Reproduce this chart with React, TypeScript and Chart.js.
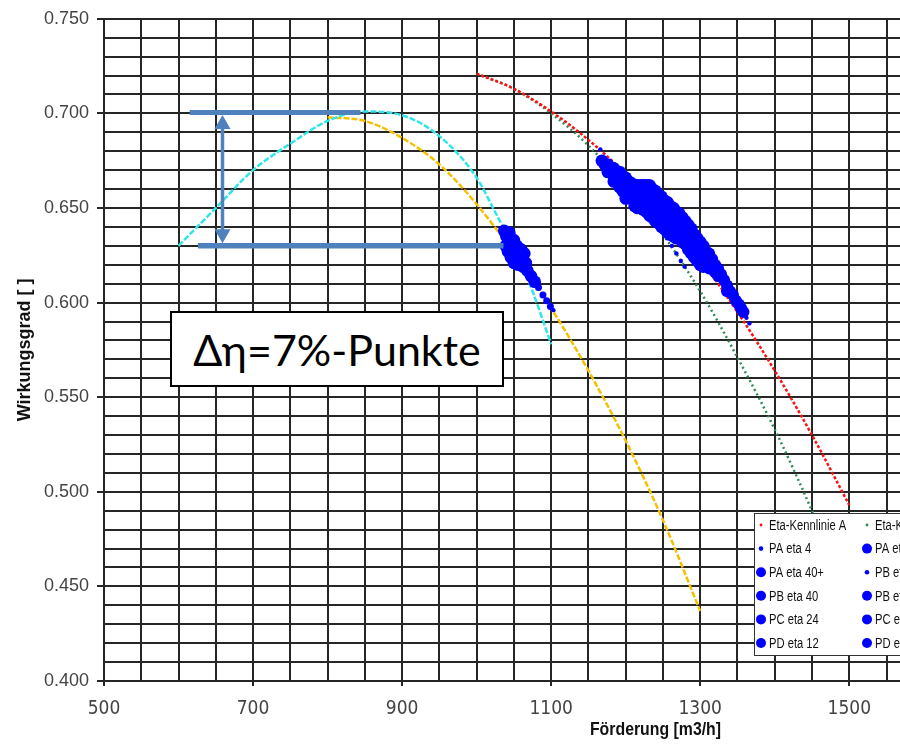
import React, { useEffect, useRef } from 'react';
import { Chart, registerables } from 'chart.js';
Chart.register(...registerables);

// ---- characteristic curves (Förderung [m3/h], Wirkungsgrad) ----
const redX = [1000, 1050, 1100, 1150, 1200, 1250, 1300, 1350, 1400, 1450, 1500];
const redY = [0.721, 0.713, 0.701, 0.686, 0.668, 0.647, 0.623, 0.595, 0.564, 0.530, 0.493];
const greenX = [1000, 1050, 1100, 1150, 1200, 1250, 1300, 1350, 1400, 1450, 1480];
const greenY = [0.721, 0.713, 0.700, 0.683, 0.661, 0.636, 0.606, 0.571, 0.533, 0.490, 0.462];
const cyanX = [600, 650, 700, 750, 800, 850, 900, 950, 1000, 1030, 1050, 1075, 1100];
const cyanY = [0.630, 0.650, 0.670, 0.684, 0.696, 0.701, 0.699, 0.688, 0.666, 0.644, 0.630, 0.606, 0.578];
const yellowX = [800, 850, 900, 950, 1000, 1050, 1100, 1150, 1200, 1250, 1300];
const yellowY = [0.698, 0.696, 0.687, 0.673, 0.652, 0.626, 0.597, 0.564, 0.527, 0.485, 0.437];

// ---- measured operating points [Förderung, Wirkungsgrad] ----
const paEta4 = [[1256, 0.634], [1262, 0.630], [1268, 0.626], [1274, 0.622], [1279, 0.619], [1362, 0.592], [1366, 0.589]];
const paEta24 = [[1168, 0.675], [1172, 0.673], [1176, 0.673], [1176, 0.669], [1180, 0.671], [1184, 0.671], [1184, 0.667], [1184, 0.664], [1188, 0.669], [1188, 0.665], [1192, 0.669], [1192, 0.665], [1192, 0.661], [1196, 0.667], [1196, 0.663], [1196, 0.659], [1200, 0.666], [1200, 0.662], [1200, 0.658], [1200, 0.655]];
const paEta40p = [[1204, 0.664], [1204, 0.660], [1204, 0.656], [1208, 0.663], [1208, 0.659], [1208, 0.655], [1212, 0.662], [1212, 0.658], [1212, 0.654], [1212, 0.651], [1216, 0.662], [1216, 0.658], [1216, 0.654], [1216, 0.650], [1220, 0.662], [1220, 0.656], [1220, 0.650], [1224, 0.662], [1224, 0.658], [1224, 0.654], [1224, 0.649], [1228, 0.662], [1228, 0.656], [1228, 0.648], [1232, 0.662], [1232, 0.658], [1232, 0.654], [1232, 0.650], [1232, 0.646], [1236, 0.660], [1236, 0.652], [1236, 0.645], [1240, 0.659], [1240, 0.655], [1240, 0.651], [1240, 0.647], [1240, 0.643]];
const pbEta4 = [[1103, 0.596], [1166, 0.681]];
const pbEta40 = [[1244, 0.657], [1244, 0.650], [1244, 0.642], [1248, 0.656], [1248, 0.652], [1248, 0.648], [1248, 0.644], [1248, 0.640], [1252, 0.654], [1252, 0.646], [1252, 0.639], [1256, 0.653], [1256, 0.649], [1256, 0.645], [1256, 0.641], [1256, 0.637], [1260, 0.651], [1260, 0.643], [1260, 0.636], [1264, 0.650], [1264, 0.646], [1264, 0.642], [1264, 0.638], [1264, 0.635], [1268, 0.648], [1268, 0.641], [1268, 0.634], [1272, 0.647], [1272, 0.643], [1272, 0.639], [1272, 0.635], [1276, 0.645], [1276, 0.637], [1276, 0.632]];
const pbEta40p = [[1280, 0.643], [1280, 0.639], [1280, 0.635], [1280, 0.631], [1284, 0.641], [1284, 0.633], [1284, 0.628], [1288, 0.639], [1288, 0.635], [1288, 0.631], [1288, 0.626], [1292, 0.636], [1292, 0.628], [1292, 0.624], [1296, 0.634], [1296, 0.630], [1296, 0.626], [1296, 0.622], [1300, 0.632], [1300, 0.624], [1300, 0.620], [1304, 0.630], [1304, 0.626], [1304, 0.622], [1304, 0.619]];
const pcEta24 = [[1308, 0.627], [1308, 0.620], [1312, 0.626], [1312, 0.622], [1312, 0.618], [1316, 0.623], [1316, 0.618], [1320, 0.620], [1320, 0.616], [1324, 0.618], [1324, 0.614], [1328, 0.615], [1332, 0.612], [1336, 0.609], [1336, 0.606], [1340, 0.606], [1344, 0.604], [1348, 0.601], [1352, 0.599], [1355, 0.597], [1358, 0.595]];
const pcEta40 = [[1037, 0.638], [1040, 0.635], [1044, 0.632], [1039, 0.630], [1046, 0.628], [1050, 0.633], [1054, 0.630], [1060, 0.628], [1064, 0.626], [1046, 0.624], [1052, 0.625], [1058, 0.623], [1063, 0.622], [1056, 0.620], [1062, 0.619], [1068, 0.617], [1073, 0.614], [1078, 0.611]];
const pdEta12 = [[1083, 0.608], [1089, 0.604], [1094, 0.601], [1099, 0.598]];
const pdEta24 = [[1044, 0.637], [1066, 0.621], [1042, 0.627], [1050, 0.621]];

// ---- axis ----
const xMin = 500;
const xMax = 1980;
const xStep = 50;
const xLabelEvery = 200;
const yMin = 0.4;
const yMax = 0.75;
const yStep = 0.01;
const yLabelEvery = 0.05;
const xTitle = 'Förderung [m3/h]';
const yTitle = 'Wirkungsgrad [ ]';

// ---- annotation (Δη) in data units ----
const deltaTop = { y: 0.7005, x0: 615, x1: 844 };
const deltaBottom = { y: 0.63, x0: 626, x1: 1036 };
const arrowX = 659;
const deltaText = 'Δη=7%-Punkte';

const NARROW = "'Liberation Sans Narrow', 'DejaVu Sans Condensed', 'Liberation Sans', Arial, sans-serif";
const SANS = "'Liberation Sans', Arial, sans-serif";
const BLUE = '#0000ff';
const GRID = '#262626';
const ANNO = '#4f81bd';
const TICK_TEXT = '#444444';

const pts = (a: number[][]) => a.map(([x, y]) => ({ x, y }));
const line = (xs: number[], ys: number[]) => xs.map((x, i) => ({ x, y: ys[i] }));

const isMajorX = (v: number) => v !== undefined && v <= 1900 && Math.abs(((v - xMin) % xLabelEvery)) < 1e-6;
const isMajorY = (v: number) => {
  if (v === undefined) return false;
  const k = v / yLabelEvery;
  return Math.abs(k - Math.round(k)) < 1e-6;
};

const pointSet = (label: string, data: number[][], r: number, legendR: number) => ({
  label,
  data: pts(data),
  showLine: false,
  pointRadius: r,
  pointHoverRadius: r,
  pointBackgroundColor: BLUE,
  pointBorderWidth: 0,
  borderColor: BLUE,
  backgroundColor: BLUE,
  legendR,
});

const curveSet = (label: string, xs: number[], ys: number[], color: string, dash: number[], legendR: number) => ({
  label,
  data: line(xs, ys),
  showLine: true,
  pointRadius: 0,
  borderColor: color,
  backgroundColor: color,
  borderWidth: 2.5,
  borderDash: dash,
  cubicInterpolationMode: 'monotone',
  fill: false,
  legendR,
});

const legendOrder = ['Eta-Kennlinie A', 'Eta-Kennlinie B', 'PA eta 4', 'PA eta 24', 'PA eta 40+', 'PB eta 4', 'PB eta 40', 'PB eta 40+', 'PC eta 24', 'PC eta 40', 'PD eta 12', 'PD eta 24'];

const deltaPlugin = {
  id: 'deltaEta',
  afterDatasetsDraw(chart: any) {
    const { ctx, scales } = chart;
    const x = scales.x, y = scales.y;
    ctx.save();
    ctx.strokeStyle = ANNO;
    ctx.fillStyle = ANNO;
    ctx.lineCap = 'butt';
    const yt = y.getPixelForValue(deltaTop.y);
    const yb = y.getPixelForValue(deltaBottom.y);
    ctx.lineWidth = 5;
    ctx.beginPath();
    ctx.moveTo(x.getPixelForValue(deltaTop.x0), yt);
    ctx.lineTo(x.getPixelForValue(deltaTop.x1), yt);
    ctx.stroke();
    ctx.lineWidth = 5.5;
    ctx.beginPath();
    ctx.moveTo(x.getPixelForValue(deltaBottom.x0), yb);
    ctx.lineTo(x.getPixelForValue(deltaBottom.x1), yb);
    ctx.stroke();
    const ax = x.getPixelForValue(arrowX);
    const headL = 14, headW = 8;
    const t1 = yt + 2.5, t2 = yb - 2.5;
    ctx.lineWidth = 3.5;
    ctx.beginPath();
    ctx.moveTo(ax, t1 + headL - 1);
    ctx.lineTo(ax, t2 - headL + 1);
    ctx.stroke();
    ctx.beginPath();
    ctx.moveTo(ax, t1);
    ctx.lineTo(ax - headW, t1 + headL);
    ctx.lineTo(ax + headW, t1 + headL);
    ctx.closePath();
    ctx.fill();
    ctx.beginPath();
    ctx.moveTo(ax, t2);
    ctx.lineTo(ax - headW, t2 - headL);
    ctx.lineTo(ax + headW, t2 - headL);
    ctx.closePath();
    ctx.fill();
    ctx.restore();
  },
};

// x-axis title, centred under the axis, slightly condensed as in the source picture
const xTitlePlugin = {
  id: 'xTitleNarrow',
  afterDraw(chart: any) {
    const { ctx, scales } = chart;
    const x = scales.x;
    const cx = (x.left + x.right) / 2;
    ctx.save();
    ctx.translate(cx, x.bottom - 10);
    ctx.scale(0.88, 1);
    ctx.font = `bold 18px ${SANS}`;
    ctx.fillStyle = '#111111';
    ctx.textAlign = 'center';
    ctx.textBaseline = 'alphabetic';
    ctx.fillText(xTitle, 0, 0);
    ctx.restore();
  },
};

const legendPlugin = {
  id: 'boxLegend',
  afterDraw(chart: any) {
    const { ctx } = chart;
    const L = 754, T = 513, W = 300, H = 142;
    ctx.save();
    ctx.fillStyle = '#ffffff';
    ctx.fillRect(L, T, W, H);
    ctx.strokeStyle = '#333333';
    ctx.lineWidth = 1;
    ctx.strokeRect(L + 0.5, T + 0.5, W, H);
    ctx.font = `14px ${SANS}`;
    ctx.textBaseline = 'middle';
    ctx.textAlign = 'left';
    const dsets = chart.data.datasets;
    legendOrder.forEach((name, i) => {
      const ds = dsets.find((d: any) => d.label === name);
      if (!ds) return;
      const col = i % 2, row = Math.floor(i / 2);
      const mx = L + 7 + col * 106;
      const my = T + 12 + row * 23.6;
      ctx.fillStyle = ds.borderColor;
      ctx.beginPath();
      ctx.arc(mx, my, ds.legendR, 0, Math.PI * 2);
      ctx.fill();
      ctx.save();
      ctx.translate(mx + 8, my + 1);
      ctx.scale(0.8, 1);
      ctx.fillStyle = '#111111';
      ctx.fillText(name, 0, 0);
      ctx.restore();
    });
    ctx.restore();
  },
};

export default function App() {
  const ref = useRef<HTMLCanvasElement>(null);
  useEffect(() => {
    const canvas = ref.current;
    if (!canvas) return;
    const chart = new Chart(canvas, {
      type: 'scatter',
      data: {
        datasets: [
          pointSet('PA eta 4', paEta4, 2.2, 2.3),
          pointSet('PA eta 24', paEta24, 6.3, 5),
          pointSet('PA eta 40+', paEta40p, 6.3, 5),
          pointSet('PB eta 4', pbEta4, 2.2, 2.3),
          pointSet('PB eta 40', pbEta40, 6.3, 5),
          pointSet('PB eta 40+', pbEta40p, 6.3, 5),
          pointSet('PC eta 24', pcEta24, 6, 5),
          pointSet('PC eta 40', pcEta40, 6.3, 5),
          pointSet('PD eta 12', pdEta12, 3.5, 5),
          pointSet('PD eta 24', pdEta24, 6.3, 5),
          curveSet('Eta-Kennlinie A', redX, redY, '#ff1010', [3, 2], 1.4),
          curveSet('Eta-Kennlinie B', greenX, greenY, '#2e8b57', [2, 3], 1.4),
          curveSet('Kennlinie C', cyanX, cyanY, '#2ee6ea', [6, 2], 1.4),
          curveSet('Kennlinie D', yellowX, yellowY, '#f5c000', [6, 2], 1.4),
        ] as any,
      },
      options: {
        animation: false,
        responsive: false,
        devicePixelRatio: 1,
        events: [],
        layout: { padding: { left: 0, top: 17, right: 13, bottom: 0 } },
        plugins: { legend: { display: false }, tooltip: { enabled: false } },
        scales: {
          x: {
            type: 'linear',
            min: xMin,
            max: xMax,
            ticks: {
              stepSize: xStep,
              autoSkip: false,
              maxRotation: 0,
              padding: 12,
              color: TICK_TEXT,
              font: { family: NARROW, size: 19 },
              callback: (v: any) => (isMajorX(Number(v)) ? String(v) : ''),
            },
            grid: {
              color: GRID,
              lineWidth: 2,
              tickLength: 5,
              tickColor: (c: any) => (isMajorX(c.tick?.value) ? GRID : 'rgba(0,0,0,0)'),
            },
            border: { color: GRID, width: 2 },
            title: { display: false, text: xTitle },
            afterFit: (s: any) => { s.height = 64; },
          },
          y: {
            type: 'linear',
            min: yMin,
            max: yMax,
            ticks: {
              stepSize: yStep,
              autoSkip: false,
              padding: 8,
              color: TICK_TEXT,
              font: { family: SANS, size: 18 },
              callback: (v: any) => (isMajorY(Number(v)) ? Number(v).toFixed(3) : ''),
            },
            grid: {
              color: GRID,
              lineWidth: 2,
              tickLength: 7,
              tickColor: (c: any) => (isMajorY(c.tick?.value) ? GRID : 'rgba(0,0,0,0)'),
            },
            border: { color: GRID, width: 2 },
            title: {
              display: true,
              text: yTitle,
              color: '#111',
              font: { family: SANS, size: 18, weight: 'bold' },
              padding: { top: 14, bottom: 0 },
            },
            afterFit: (s: any) => { s.width = 104; },
          },
        },
      } as any,
      plugins: [deltaPlugin, xTitlePlugin, legendPlugin],
    });
    return () => chart.destroy();
  }, []);

  return (
    <div style={{ position: 'fixed', left: 0, top: 0, width: 900, height: 745, overflow: 'hidden', background: '#fff' }}>
      <canvas ref={ref} width={1220} height={745} style={{ display: 'block', width: 1220, height: 745 }} />
      <div
        style={{
          position: 'absolute',
          left: 170,
          top: 311,
          width: 334,
          height: 76,
          boxSizing: 'border-box',
          border: '2px solid #000',
          background: '#fff',
          display: 'flex',
          alignItems: 'center',
          justifyContent: 'center',
          fontFamily: "Lato, 'Noto Sans', sans-serif",
          fontSize: 43,
          color: '#000',
          lineHeight: 1,
        }}
      >
        {deltaText}
      </div>
    </div>
  );
}
